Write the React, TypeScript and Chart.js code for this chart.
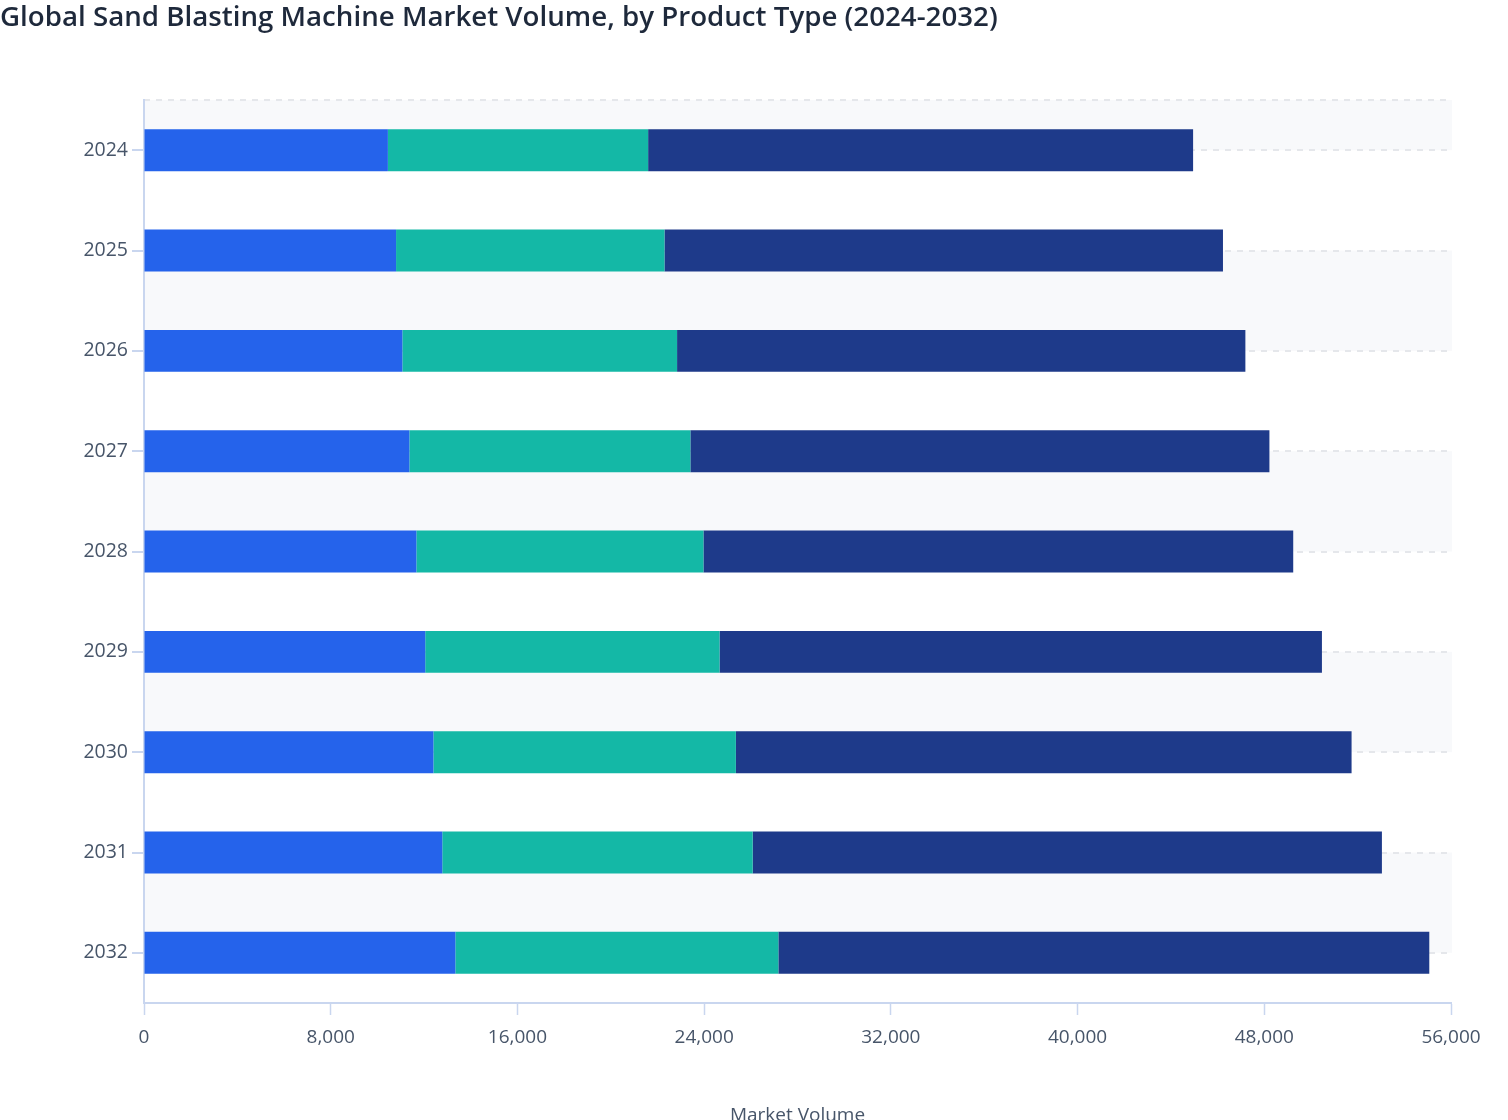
import React, { useEffect, useRef } from "react";
import Chart from "chart.js/auto";

const years = ["2024", "2025", "2026", "2027", "2028", "2029", "2030", "2031", "2032"];
const seriesNames = ["Portable Sand Blasting Machine", "Automatic Sand Blasting Machine", "Cabinet Sand Blasting Machine"];
const portable = [10450, 10800, 11070, 11370, 11670, 12050, 12400, 12780, 13340];
const automatic = [11150, 11500, 11770, 12040, 12300, 12610, 12960, 13300, 13840];
const cabinet = [23350, 23930, 24350, 24810, 25270, 25810, 26380, 26960, 27890];
const xTicks = [0, 8000, 16000, 24000, 32000, 40000, 48000, 56000];

const bandColor = "#f8f9fb";
const gridColor = "#e5e7eb";
const axisColor = "#c9d6ef";
const labelColor = "#475569";

// alternating background bands between category centres, plus the dashed top line
const bandsPlugin = {
  id: "bands",
  beforeDraw(chart: any) {
    const { ctx, chartArea, scales } = chart;
    const y = scales.y;
    const edges = [chartArea.top];
    years.forEach((_, i) => edges.push(y.getPixelForValue(i)));
    edges.push(chartArea.bottom);
    ctx.save();
    ctx.fillStyle = bandColor;
    for (let i = 0; i < edges.length - 1; i += 2) {
      ctx.fillRect(chartArea.left, edges[i], chartArea.right - chartArea.left + 1, edges[i + 1] - edges[i]);
    }
    ctx.strokeStyle = gridColor;
    ctx.lineWidth = 2;
    ctx.setLineDash([6, 6]);
    ctx.beginPath();
    ctx.moveTo(chartArea.left, chartArea.top);
    ctx.lineTo(chartArea.right, chartArea.top);
    ctx.stroke();
    ctx.restore();
  },
};

const App: React.FC = () => {
  const chartRef = useRef<HTMLCanvasElement | null>(null);
  const chartInstance = useRef<Chart | null>(null);

  useEffect(() => {
    if (!chartRef.current) return;
    const ctx = chartRef.current.getContext("2d");
    if (!ctx) return;

    chartInstance.current = new Chart(ctx, {
      type: "bar",
      data: {
        labels: years,
        datasets: [
          { label: seriesNames[0], data: portable, backgroundColor: "#2563eb" },
          { label: seriesNames[1], data: automatic, backgroundColor: "#14b8a6" },
          { label: seriesNames[2], data: cabinet, backgroundColor: "#1e3a8a" },
        ],
      },
      options: {
        indexAxis: "y",
        animation: false,
        responsive: true,
        maintainAspectRatio: false,
        layout: { padding: { left: 0, right: 57, top: 0, bottom: 0 } },
        datasets: { bar: { barPercentage: 0.418, categoryPercentage: 1 } },
        plugins: {
          legend: { display: false },
          tooltip: { enabled: false },
          title: {
            display: true,
            text: "Global Sand Blasting Machine Market Volume, by Product Type (2024-2032)",
            align: "start",
            color: "#1e293b",
            font: { family: "'Open Sans'", size: 27.7, weight: "600" },
            padding: { top: 1.5, bottom: 65.3 },
          },
        },
        scales: {
          x: {
            stacked: true,
            min: 0,
            max: 56000,
            afterBuildTicks: (scale: any) => {
              scale.ticks = xTicks.map((v) => ({ value: v }));
            },
            afterFit: (scale: any) => {
              scale.height = 117;
            },
            ticks: {
              color: labelColor,
              font: { family: "'Open Sans'", size: 19 },
              padding: 11,
              maxRotation: 0,
              callback: (v: any) => Number(v).toLocaleString("en-US"),
            },
            grid: {
              drawOnChartArea: false,
              drawTicks: true,
              tickLength: 12,
              tickColor: axisColor,
              tickWidth: 1.5,
            },
            border: { color: axisColor, width: 2 },
            title: {
              display: true,
              text: "Market Volume",
              color: labelColor,
              font: { family: "'Open Sans'", size: 19 },
              padding: { top: 0, bottom: -7 },
            },
          },
          y: {
            stacked: true,
            afterFit: (scale: any) => {
              scale.width = 144;
            },
            ticks: {
              color: labelColor,
              font: { family: "'Open Sans'", size: 19.5 },
              padding: 4,
            },
            grid: {
              offset: false,
              color: gridColor,
              lineWidth: 2,
              drawTicks: true,
              tickLength: 12,
              tickColor: axisColor,
              tickWidth: 2,
            },
            border: { color: axisColor, width: 2, dash: [6, 6] },
          },
        },
      },
      plugins: [bandsPlugin],
    });

    return () => {
      if (chartInstance.current) {
        chartInstance.current.destroy();
        chartInstance.current = null;
      }
    };
  }, []);

  return (
    <div style={{ position: "fixed", left: 0, top: 0, width: 1508, height: 1120, background: "#fff" }}>
      <canvas ref={chartRef} />
    </div>
  );
};

export default App;
